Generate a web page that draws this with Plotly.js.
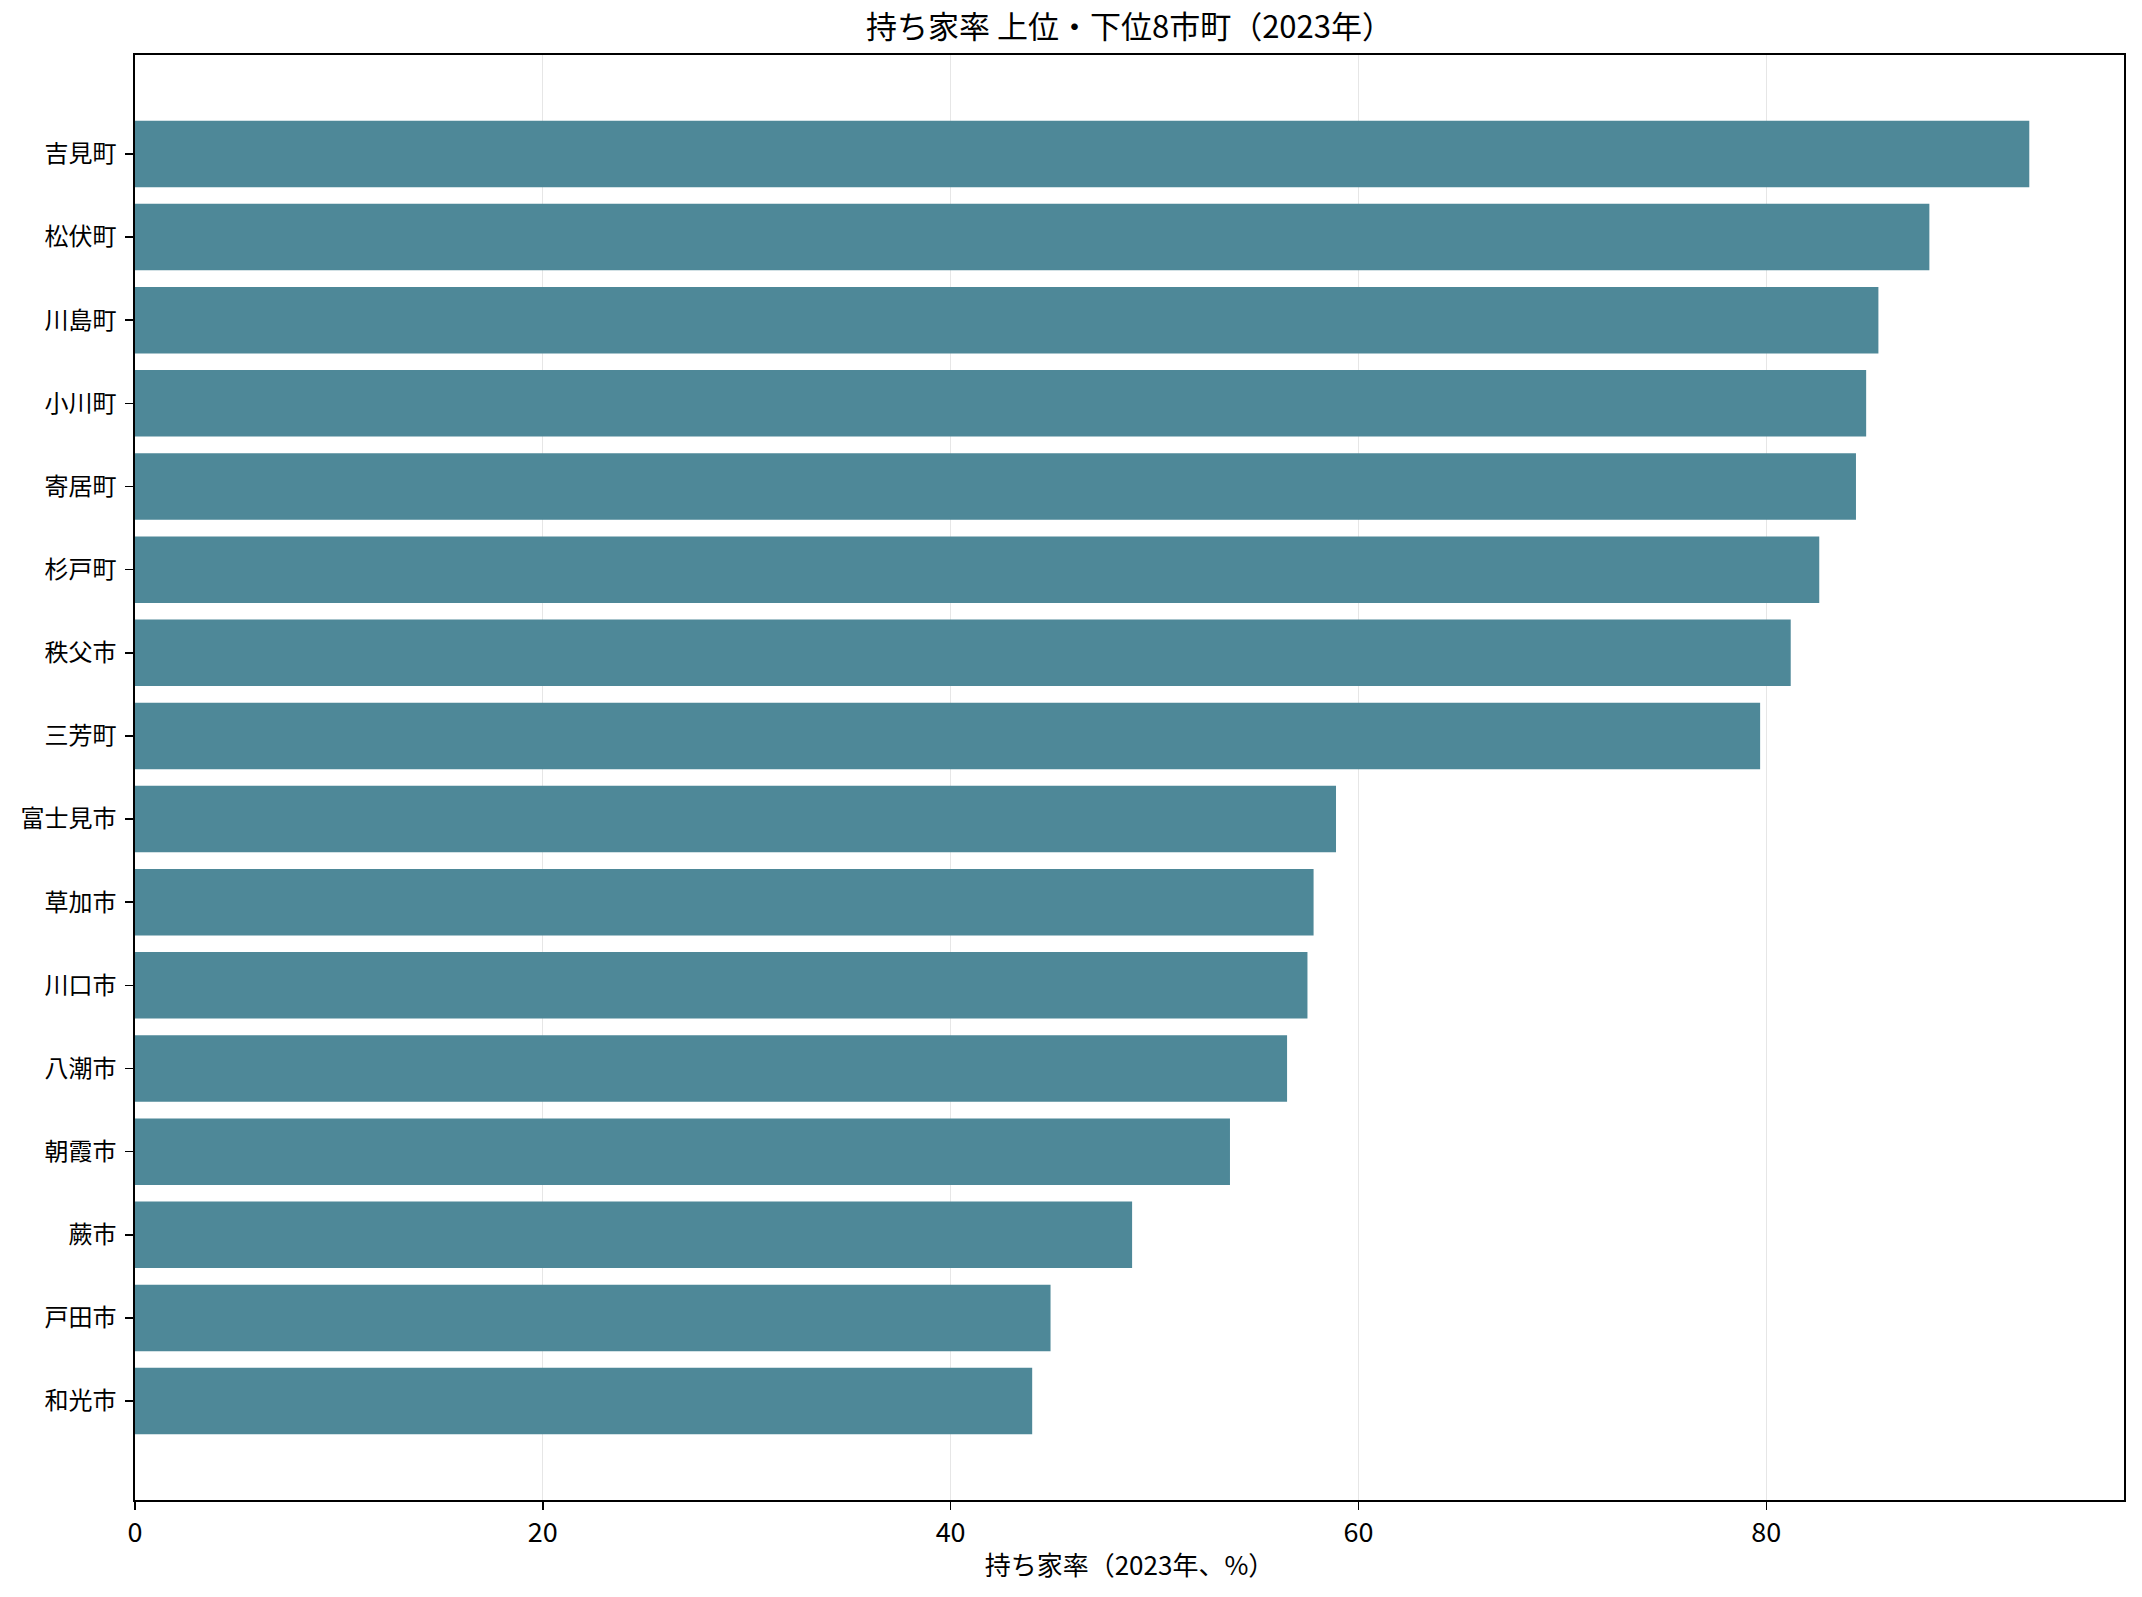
<!DOCTYPE html>
<html>
<head>
<meta charset="utf-8">
<script src="https://cdn.plot.ly/plotly-3.0.1.min.js"></script>
<style>html,body{margin:0;padding:0;background:#fff;}#chart{width:2142px;height:1597px;}</style>
</head>
<body>
<div id="chart"></div>
<script>
const municipalities = ["吉見町","松伏町","川島町","小川町","寄居町","杉戸町","秩父市","三芳町","富士見市","草加市","川口市","八潮市","朝霞市","蕨市","戸田市","和光市"];
const ownershipRate = [92.9, 88.0, 85.5, 84.9, 84.4, 82.6, 81.2, 79.7, 58.9, 57.8, 57.5, 56.5, 53.7, 48.9, 44.9, 44.0];
const xTickValues = [0, 20, 40, 60, 80];
const xTickLabels = ["0", "20", "40", "60", "80"];

const FONT = '"Noto Sans CJK JP", "Noto Sans", sans-serif';
const maxVal = Math.max(...ownershipRate);
const n = municipalities.length;

const trace = {
  type: 'bar',
  orientation: 'h',
  y: municipalities,
  x: ownershipRate,
  width: 0.8,
  marker: {color: '#4e8898', line: {width: 0}},
  hoverinfo: 'x+y'
};

const layout = {
  width: 2142,
  height: 1597,
  paper_bgcolor: '#ffffff',
  plot_bgcolor: '#ffffff',
  margin: {l: 135, r: 18, t: 55, b: 97, pad: 0},
  showlegend: false,
  font: {family: FONT, color: '#000000', size: 20},
  title: {
    text: '持ち家率 上位・下位8市町（2023年）',
    font: {family: FONT, size: 31, color: '#000000'},
    x: 0.5, xref: 'paper', xanchor: 'center',
    y: 1597 - 31, yref: 'container', yanchor: 'middle'
  },
  xaxis: {
    range: [0, maxVal * 1.05],
    tickvals: xTickValues,
    ticktext: xTickLabels,
    ticks: 'outside', ticklen: 8, tickwidth: 1.5, tickcolor: '#000',
    ticklabelstandoff: 0,
    showgrid: true, gridcolor: '#e6e6e6', gridwidth: 1.3,
    zeroline: false,
    showline: true, linecolor: '#000', linewidth: 1.6, mirror: true,
    tickfont: {family: FONT, size: 27, color: '#000'},
    title: {text: '持ち家率（2023年、%）', font: {family: FONT, size: 26, color: '#000'}, standoff: 8},
    automargin: false
  },
  yaxis: {
    type: 'category',
    categoryorder: 'array',
    categoryarray: municipalities,
    range: [n - 1 + 0.4 + 0.79, -0.4 - 0.79],
    ticks: 'outside', ticklen: 8, tickwidth: 1.5, tickcolor: '#000',
    ticklabelstandoff: 4,
    showgrid: false, zeroline: false,
    showline: true, linecolor: '#000', linewidth: 1.6, mirror: true,
    tickfont: {family: FONT, size: 24, color: '#000'},
    automargin: false
  }
};

Plotly.newPlot('chart', [trace], layout, {displayModeBar: false, staticPlot: true});
</script>
</body>
</html>
